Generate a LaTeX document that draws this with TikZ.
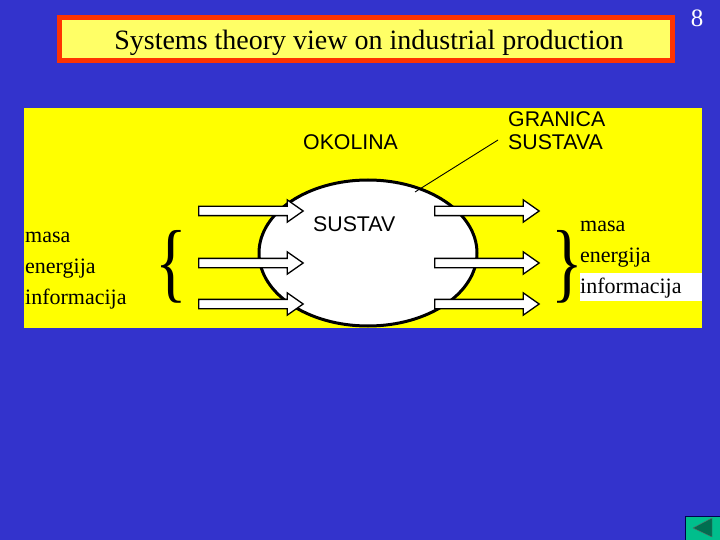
\documentclass[tikz,border=0pt]{standalone}
\usepackage{fontspec}
\setmainfont{Liberation Serif}
\setsansfont{Liberation Sans}
\usetikzlibrary{shapes.arrows,shapes.geometric}
\definecolor{slideblue}{RGB}{51,51,204}
\definecolor{titlered}{RGB}{255,51,0}
\definecolor{titleyellow}{RGB}{255,255,102}
\definecolor{panelyellow}{RGB}{255,255,0}
\definecolor{buttongreen}{RGB}{0,190,140}
\definecolor{buttondark}{RGB}{0,110,80}
\tikzset{
  flowarrow/.style={draw=black,fill=white,line width=1.3pt,single arrow,inner sep=4pt,minimum height=104.5pt,minimum width=21pt,
    single arrow head extend=6.5pt,single arrow tip angle=70,anchor=west},
  serifword/.style={font=\fontsize{22}{22}\selectfont,anchor=base west,inner sep=0pt},
  sansword/.style={font=\sffamily\fontsize{21.3}{22}\selectfont,anchor=base west,inner sep=0pt},
  bracemark/.style={font=\fontsize{88}{88}\selectfont,inner sep=0pt}
}
\begin{document}
\begin{tikzpicture}[x=1pt,y=-1pt]
\useasboundingbox (0,0) rectangle (720,540);
\fill[slideblue] (0,0) rectangle (720,540);
\node (pagenum) [anchor=base,text=white,inner sep=0pt,font=\fontsize{25}{25}\selectfont] at (697,26.5) {8};
% title
\draw[titlered,fill=titleyellow,line width=5pt] (59.5,17.5) rectangle (672.5,60.5);
\node (title) [anchor=base,inner sep=0pt,font=\fontsize{28}{28}\selectfont] at (369,49.5) {Systems theory view on industrial production};
% panel
\fill[panelyellow] (24,108) rectangle (702,328);
\fill[white] (580,273) rectangle (702,301);
\node (sustav) [draw,fill=white,line width=3pt,ellipse,minimum width=218pt,minimum height=146pt,inner sep=0pt] at (368,253) {};
\node (okolina) [sansword] at (303,150) {OKOLINA};
\node (sustavlabel) [sansword] at (313,232) {SUSTAV};
\node (granica) [sansword] at (508,127) {GRANICA};
\node (granicab) [sansword] at (508,150) {SUSTAVA};
\coordinate (leadstart) at (498,140);
\coordinate (leadend) at (415,192);
\draw[line width=0.9pt] (leadstart) -- (leadend);
% arrows in and out
\foreach \name/\y in {a/211,b/263,c/304}{
  \node (in\name) [flowarrow] at (198,\y) {};
  \node (out\name) [flowarrow] at (434,\y) {};
}
\node (bracel) [bracemark] at (171,267) {\scalebox{.75}[1]{\{}};
\node (bracer) [bracemark] at (567.5,267) {\scalebox{.75}[1]{\}}};
\node (masal) [serifword] at (25,243) {masa};
\node (energijal) [serifword] at (25,273) {energija};
\node (informl) [serifword] at (25,304) {informacija};
\node (masar) [serifword] at (580,232) {masa};
\node (energijar) [serifword] at (580,262) {energija};
\node (informr) [serifword] at (580,293) {informacija};
% back button
\draw[black!70!blue,fill=buttongreen] (685,516.5) rectangle (721,541);
\fill[buttondark,draw=black!60] (693,528) -- (712,518) -- (712,537) -- cycle;
\end{tikzpicture}
\end{document}
